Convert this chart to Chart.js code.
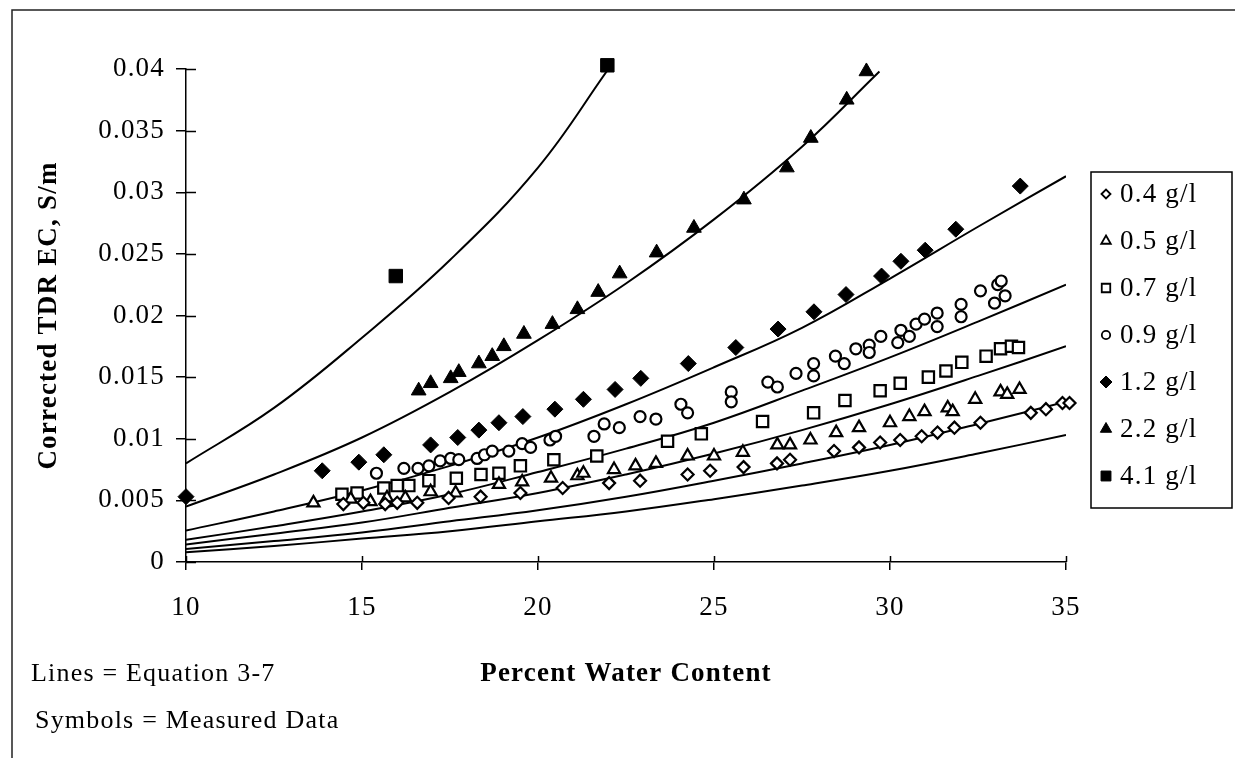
<!DOCTYPE html>
<html>
<head>
<meta charset="utf-8">
<title>Corrected TDR EC vs Percent Water Content</title>
<script src="https://cdn.jsdelivr.net/npm/chart.js@4.4.1/dist/chart.umd.min.js"></script>
<style>
  html, body { margin: 0; padding: 0; background: #fff; }
  canvas { display: block; }
</style>
</head>
<body>
<canvas id="chart" width="1235" height="758"></canvas>
<script>
// Corrected TDR EC (S/m) against percent water content.
// Lines = Equation 3-7, symbols = measured data, one pair per salt concentration.

// ---------- model lines ----------
var lineX   = [10, 12.5, 15, 17.5, 20, 22.5, 25, 27.5, 30, 32.5, 35];
var line04  = [0.0008, 0.0013, 0.0019, 0.0025, 0.0033, 0.0041, 0.0051, 0.0062, 0.0074, 0.0088, 0.0103];
var line05  = [0.00106, 0.0017, 0.0024, 0.0033, 0.0042, 0.0053, 0.0066, 0.0080, 0.0095, 0.0112, 0.0130];
var line07  = [0.00142, 0.0023, 0.0032, 0.0044, 0.0056, 0.0071, 0.0088, 0.0107, 0.0128, 0.0151, 0.0175];
var line09  = [0.0018, 0.0029, 0.0041, 0.0055, 0.0073, 0.0092, 0.0113, 0.0139, 0.0166, 0.0195, 0.0225];
var line12  = [0.00255, 0.0041, 0.0058, 0.0078, 0.0101, 0.0128, 0.0158, 0.0190, 0.0230, 0.0272, 0.0313];
var line22X = [10, 12.5, 15, 17.5, 20, 22.5, 25, 27.5, 29.7];
var line22  = [0.0045, 0.0071, 0.0101, 0.0138, 0.0180, 0.0226, 0.0278, 0.0337, 0.0398];
var line41X = [10, 12.5, 15, 17.5, 20, 22];
var line41  = [0.0080, 0.0125, 0.0182, 0.0245, 0.0320, 0.0400];

// ---------- measured data ----------
var meas04X = [14.47, 15.04, 15.66, 16.0, 16.57, 17.46, 18.37, 19.5, 20.7, 22.02, 22.9, 24.25, 24.89, 25.84, 26.79, 27.16, 28.41, 29.12, 29.72, 30.29, 30.9, 31.35, 31.83, 32.57, 34.0, 34.43, 34.9, 35.1];
var meas04Y = [0.0047, 0.0048, 0.0047, 0.0048, 0.0048, 0.0052, 0.0053, 0.0056, 0.0060, 0.0064, 0.0066, 0.0071, 0.0074, 0.0077, 0.0080, 0.0083, 0.0090, 0.0093, 0.0097, 0.0099, 0.0102, 0.0105, 0.0109, 0.0113, 0.0121, 0.0124, 0.0129, 0.0129];

var meas05X = [13.62, 14.68, 15.24, 15.71, 16.23, 16.95, 17.66, 18.89, 19.55, 20.37, 21.12, 21.29, 22.16, 22.77, 23.35, 24.25, 25.0, 25.82, 26.8, 27.16, 27.74, 28.47, 29.12, 30.0, 30.55, 30.98, 31.64, 31.78, 32.42, 33.14, 33.33, 33.68];
var meas05Y = [0.0048, 0.0051, 0.0049, 0.0052, 0.0052, 0.0057, 0.0056, 0.0063, 0.0065, 0.0068, 0.0070, 0.0072, 0.0075, 0.0078, 0.0080, 0.0086, 0.0086, 0.0089, 0.0095, 0.0095, 0.0099, 0.0105, 0.0109, 0.0113, 0.0118, 0.0122, 0.0125, 0.0122, 0.0132, 0.0138, 0.0136, 0.0140];

var meas07X = [14.43, 14.86, 15.62, 16.0, 16.33, 16.9, 17.68, 18.38, 18.89, 19.5, 20.45, 21.67, 23.68, 24.64, 26.38, 27.83, 28.72, 29.72, 30.29, 31.09, 31.59, 32.04, 32.73, 33.14, 33.45, 33.65];
var meas07Y = [0.0055, 0.0056, 0.0060, 0.0062, 0.0062, 0.0066, 0.0068, 0.0071, 0.0072, 0.0078, 0.0083, 0.0086, 0.0098, 0.0104, 0.0114, 0.0121, 0.0131, 0.0139, 0.0145, 0.0150, 0.0155, 0.0162, 0.0167, 0.0173, 0.0175, 0.0174];

var meas09X = [15.41, 16.19, 16.59, 16.9, 17.22, 17.52, 17.75, 18.27, 18.48, 18.7, 19.17, 19.55, 19.79, 20.34, 20.5, 21.59, 21.88, 22.31, 22.9, 23.35, 24.06, 24.25, 25.49, 25.49, 26.53, 26.8, 27.33, 27.83, 27.83, 28.45, 28.7, 29.03, 29.41, 29.41, 29.74, 30.22, 30.31, 30.55, 30.74, 30.98, 31.34, 31.34, 32.02, 32.02, 32.57, 32.97, 33.06, 33.16, 33.27];
var meas09Y = [0.0072, 0.0076, 0.0076, 0.0078, 0.0082, 0.0084, 0.0083, 0.0084, 0.0087, 0.0090, 0.0090, 0.0096, 0.0093, 0.0099, 0.0102, 0.0102, 0.0112, 0.0109, 0.0118, 0.0116, 0.0128, 0.0121, 0.0138, 0.0130, 0.0146, 0.0142, 0.0153, 0.0161, 0.0151, 0.0167, 0.0161, 0.0173, 0.0176, 0.0170, 0.0183, 0.0178, 0.0188, 0.0183, 0.0193, 0.0197, 0.0202, 0.0191, 0.0209, 0.0199, 0.0220, 0.0210, 0.0225, 0.0228, 0.0216];

var meas12X = [10.0, 13.87, 14.91, 15.62, 16.95, 17.72, 18.32, 18.89, 19.57, 20.48, 21.29, 22.19, 22.92, 24.27, 25.62, 26.82, 27.84, 28.75, 29.76, 30.31, 31.0, 31.87, 33.7];
var meas12Y = [0.0053, 0.0074, 0.0081, 0.0087, 0.0095, 0.0101, 0.0107, 0.0113, 0.0118, 0.0124, 0.0132, 0.0140, 0.0149, 0.0161, 0.0174, 0.0189, 0.0203, 0.0217, 0.0232, 0.0244, 0.0253, 0.0270, 0.0305];

var meas22X = [16.61, 16.95, 17.52, 17.75, 18.32, 18.70, 19.03, 19.60, 20.41, 21.12, 21.71, 22.32, 23.37, 24.43, 25.85, 27.07, 27.75, 28.77, 29.33];
var meas22Y = [0.0139, 0.0145, 0.0149, 0.0154, 0.0161, 0.0167, 0.0175, 0.0185, 0.0193, 0.0205, 0.0219, 0.0234, 0.0251, 0.0271, 0.0294, 0.0320, 0.0344, 0.0375, 0.0398];

var meas41X = [15.96, 21.97];
var meas41Y = [0.0232, 0.0403];

var seriesLabels = ["0.4 g/l", "0.5 g/l", "0.7 g/l", "0.9 g/l", "1.2 g/l", "2.2 g/l", "4.1 g/l"];
var xTicks = [10, 15, 20, 25, 30, 35];

// ---------- styling ----------
var SERIF = "'Liberation Serif', 'Times New Roman', serif";
var INK = "#000";
var SPACING = "1.2px"; // the scanned lettering is set a little wide

// marker look per series (same order as seriesLabels)
var markers = [
  { style: "rectRot",  filled: false, r: 6,   lr: 4.5 },
  { style: "triangle", filled: false, r: 7,   lr: 5.5 },
  { style: "rect",     filled: false, r: 8,   lr: 6 },
  { style: "circle",   filled: false, r: 5.5, lr: 4.2 },
  { style: "rectRot",  filled: true,  r: 8,   lr: 6 },
  { style: "triangle", filled: true,  r: 8.5, lr: 6.5 },
  { style: "rect",     filled: true,  r: 9.5, lr: 7 }
];

function pts(xs, ys) {
  return xs.map(function (x, i) { return { x: x, y: ys[i] }; });
}

var lineSets = [
  pts(lineX, line04), pts(lineX, line05), pts(lineX, line07), pts(lineX, line09),
  pts(lineX, line12), pts(line22X, line22), pts(line41X, line41)
];
var measSets = [
  pts(meas04X, meas04Y), pts(meas05X, meas05Y), pts(meas07X, meas07Y), pts(meas09X, meas09Y),
  pts(meas12X, meas12Y), pts(meas22X, meas22Y), pts(meas41X, meas41Y)
];

var datasets = [];
lineSets.forEach(function (data, i) {
  datasets.push({
    label: "Eq 3-7 " + seriesLabels[i],
    data: data,
    showLine: true,
    borderColor: INK,
    borderWidth: 2,
    pointRadius: 0,
    tension: 0.4,
    fill: false,
    order: 2
  });
});
measSets.forEach(function (data, i) {
  var m = markers[i];
  datasets.push({
    label: seriesLabels[i],
    data: data,
    showLine: false,
    pointStyle: m.style,
    pointRadius: m.r,
    pointBackgroundColor: m.filled ? INK : "#fff",
    pointBorderColor: INK,
    pointBorderWidth: m.filled ? 1 : 2.2,
    clip: false,
    order: 1
  });
});

// Plugin: wide lettering, crossing ticks, outer frame, boxed legend and notes.
var decor = {
  id: "decor",
  beforeLayout: function (chart) { chart.ctx.letterSpacing = SPACING; },
  beforeDraw: function (chart) {
    var ctx = chart.ctx;
    ctx.save();
    ctx.fillStyle = "#fff";
    ctx.fillRect(0, 0, chart.width, chart.height);
    ctx.restore();
    ctx.letterSpacing = SPACING;
  },
  afterDraw: function (chart) {
    var ctx = chart.ctx;
    var area = chart.chartArea;
    var xs = chart.scales.x, ys = chart.scales.y;
    ctx.save();
    ctx.strokeStyle = INK;
    ctx.lineWidth = 1.5;

    // inner halves of the ticks so they cross the axes
    ctx.beginPath();
    ys.ticks.forEach(function (t) {
      var py = Math.round(ys.getPixelForValue(t.value)) + 0.5;
      ctx.moveTo(area.left, py);
      ctx.lineTo(area.left + 10, py);
    });
    xs.ticks.forEach(function (t) {
      var px = Math.round(xs.getPixelForValue(t.value)) + 0.5;
      ctx.moveTo(px, area.bottom);
      ctx.lineTo(px, area.bottom - 6);
    });
    ctx.stroke();

    // outer frame (top and left edges of the scanned figure)
    ctx.strokeStyle = "#222";
    ctx.beginPath();
    ctx.moveTo(12, 758);
    ctx.lineTo(12, 10);
    ctx.lineTo(1235, 10);
    ctx.stroke();

    // legend box
    var bx = 1091, by = 172, bw = 141, bh = 336;
    ctx.strokeStyle = INK;
    ctx.lineWidth = 1.5;
    ctx.strokeRect(bx, by, bw, bh);
    ctx.font = "27px " + SERIF;
    ctx.fillStyle = INK;
    ctx.textBaseline = "middle";
    ctx.textAlign = "left";
    ctx.letterSpacing = SPACING;
    seriesLabels.forEach(function (lab, i) {
      var m = markers[i];
      var cy = by + 22 + i * 47;
      ctx.fillStyle = m.filled ? INK : "#fff";
      ctx.strokeStyle = INK;
      ctx.lineWidth = m.filled ? 1 : 1.8;
      ctx.beginPath();
      Chart.helpers.drawPoint(ctx, { pointStyle: m.style, radius: m.lr, rotation: 0, borderWidth: ctx.lineWidth }, bx + 15, cy);
      ctx.fillStyle = INK;
      ctx.fillText(lab, bx + 29, cy + 1);
    });

    // notes under the axis
    ctx.font = "26px " + SERIF;
    ctx.fillText("Lines = Equation 3-7", 31, 674);
    ctx.fillText("Symbols = Measured Data", 35, 721);
    ctx.restore();
  }
};

new Chart(document.getElementById("chart"), {
  type: "scatter",
  data: { datasets: datasets },
  plugins: [decor],
  options: {
    responsive: false,
    animation: false,
    devicePixelRatio: 1,
    layout: { padding: { top: 69, right: 169, bottom: 0, left: 0 } },
    plugins: {
      legend: { display: false },
      tooltip: { enabled: false }
    },
    scales: {
      x: {
        type: "linear",
        min: 10,
        max: 35,
        afterFit: function (s) { s.height = 196; },
        afterBuildTicks: function (s) { s.ticks = xTicks.map(function (v) { return { value: v }; }); },
        grid: { drawOnChartArea: false, drawTicks: true, tickLength: 8, color: INK, lineWidth: 1.5 },
        border: { display: true, color: INK, width: 1.5 },
        ticks: { color: INK, padding: 22, font: { family: SERIF, size: 27 }, maxRotation: 0 },
        title: {
          display: true,
          text: "Percent Water Content",
          color: INK,
          font: { family: SERIF, size: 27, weight: "bold" },
          padding: { top: 0, bottom: 68 }
        }
      },
      y: {
        type: "linear",
        min: 0,
        max: 0.04,
        afterFit: function (s) { s.width = 186; },
        grid: { drawOnChartArea: false, drawTicks: true, tickLength: 10, color: INK, lineWidth: 1.5 },
        border: { display: true, color: INK, width: 1.5 },
        ticks: {
          stepSize: 0.005,
          color: INK,
          padding: 11,
          font: { family: SERIF, size: 27 },
          callback: function (v) { return String(+v.toFixed(3)); }
        },
        title: {
          display: true,
          text: "Corrected TDR EC, S/m",
          color: INK,
          font: { family: SERIF, size: 27, weight: "bold" },
          padding: { top: 33, bottom: 0 }
        }
      }
    }
  }
});
</script>
</body>
</html>
